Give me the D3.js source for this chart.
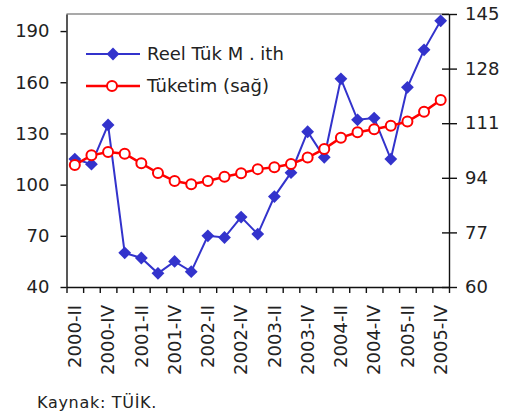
<!DOCTYPE html>
<html>
<head>
<meta charset="utf-8">
<script src="https://cdn.jsdelivr.net/npm/d3@7"></script>
<style>
  body { margin: 0; background: #fff; }
  text { font-family: "DejaVu Sans", sans-serif; fill: #222; }
</style>
</head>
<body>
<div id="chart"></div>
<script>
// Quarters shown on the x axis (every one of them is a point)
var categories = [
  "2000-II", "2000-III", "2000-IV",
  "2001-I", "2001-II", "2001-III", "2001-IV",
  "2002-I", "2002-II", "2002-III", "2002-IV",
  "2003-I", "2003-II", "2003-III", "2003-IV",
  "2004-I", "2004-II", "2004-III", "2004-IV",
  "2005-I", "2005-II", "2005-III", "2005-IV"
];

// Labels actually printed under the axis
var tickLabels = [
  "2000-II", "2000-IV", "2001-II", "2001-IV", "2002-II", "2002-IV",
  "2003-II", "2003-IV", "2004-II", "2004-IV", "2005-II", "2005-IV"
];

// Left axis series
var creditValues = [115, 112, 135, 60, 57, 48, 55, 49, 70, 69, 81, 71,
  93, 107, 131, 116, 162, 138, 139, 115, 157, 179, 196];

// Right axis series
var consumptionValues = [98, 101, 102, 101.5, 98.5, 95.5, 93, 92, 93, 94.3,
  95.4, 96.7, 97.3, 98.3, 100.3, 103, 106.5, 108.2, 109.1, 110.2, 111.5, 114.6, 118.2];

var leftTicks = [40, 70, 100, 130, 160, 190];
var rightTicks = [60, 77, 94, 111, 128, 145];

var seriesNames = ["Reel Tük M . ith", "Tüketim (sağ)"];
var blue = "#3333cc";
var red = "#ff0000";

// Sizes
var width = 506;
var height = 416;
var margin = { top: 14, right: 57, bottom: 129, left: 66.5 };
var w = width - margin.left - margin.right;
var h = height - margin.top - margin.bottom;

var svg = d3
  .select("#chart")
  .append("svg")
  .attr("width", width)
  .attr("height", height);

var g = svg
  .append("g")
  .attr("transform", "translate(" + margin.left + "," + margin.top + ")");

// Scales
var x = d3.scaleBand().domain(categories).range([0, w]).padding(0);
var xEdge = d3.scaleLinear().domain([0, categories.length]).range([0, w]);
var yLeft = d3.scaleLinear().domain([40, 200]).range([h, 0]);
var yRight = d3.scaleLinear().domain([60, 145]).range([h, 0]);

function cx(d) {
  return x(d) + x.bandwidth() / 2;
}

// Top border of the plot area
g.append("line")
  .attr("x1", 0)
  .attr("x2", w)
  .attr("y1", 0)
  .attr("y2", 0)
  .attr("stroke", "#8c8c8c")
  .attr("stroke-width", 1.5);

// Left axis
var leftAxis = g
  .append("g")
  .call(d3.axisLeft(yLeft).tickValues(leftTicks).tickSize(6).tickSizeOuter(0).tickPadding(11));

// Right axis, ticks cross the line
var rightAxis = g
  .append("g")
  .attr("transform", "translate(" + w + ",0)")
  .call(d3.axisRight(yRight).tickValues(rightTicks).tickSize(8).tickSizeOuter(0).tickPadding(8));
rightAxis.selectAll(".tick line").attr("x1", -7);

// Bottom axis: ticks between the quarters
var bottomAxis = g
  .append("g")
  .attr("transform", "translate(0," + h + ")")
  .call(
    d3.axisBottom(xEdge)
      .tickValues(d3.range(categories.length + 1))
      .tickFormat("")
      .tickSize(6)
      .tickSizeOuter(0)
  );

[leftAxis, rightAxis, bottomAxis].forEach(function (a) {
  a.selectAll("path, line").attr("stroke", "#111").attr("stroke-width", 1.4);
  a.selectAll("text")
    .style("font-family", "DejaVu Sans, sans-serif")
    .style("font-size", "18px")
    .attr("fill", "#222");
});

// Rotated quarter labels
g.selectAll(".xlab")
  .data(tickLabels)
  .enter()
  .append("text")
  .attr("class", "xlab")
  .attr("transform", function (d) {
    return "translate(" + cx(d) + "," + (h + 18) + ") rotate(-90)";
  })
  .attr("dy", "0.35em")
  .attr("text-anchor", "end")
  .style("font-size", "18px")
  .text(function (d) {
    return d;
  });

// Line generators
var lineLeft = d3
  .line()
  .x(function (d, i) { return cx(categories[i]); })
  .y(function (d) { return yLeft(d); });

var lineRight = d3
  .line()
  .x(function (d, i) { return cx(categories[i]); })
  .y(function (d) { return yRight(d); });

var diamond = d3.symbol().type(d3.symbolSquare).size(82);

// Blue series
g.append("path")
  .datum(creditValues)
  .attr("d", lineLeft)
  .attr("fill", "none")
  .attr("stroke", blue)
  .attr("stroke-width", 2);

g.selectAll(".dia")
  .data(creditValues)
  .enter()
  .append("path")
  .attr("class", "dia")
  .attr("d", diamond)
  .attr("transform", function (d, i) {
    return "translate(" + cx(categories[i]) + "," + yLeft(d) + ") rotate(45)";
  })
  .attr("fill", blue);

// Red series (drawn on top)
g.append("path")
  .datum(consumptionValues)
  .attr("d", lineRight)
  .attr("fill", "none")
  .attr("stroke", red)
  .attr("stroke-width", 2.5);

g.selectAll(".circ")
  .data(consumptionValues)
  .enter()
  .append("circle")
  .attr("class", "circ")
  .attr("cx", function (d, i) { return cx(categories[i]); })
  .attr("cy", function (d) { return yRight(d); })
  .attr("r", 5)
  .attr("fill", "#fff")
  .attr("stroke", red)
  .attr("stroke-width", 2);

// Legend
var legend = svg
  .selectAll(".legend")
  .data(seriesNames)
  .enter()
  .append("g")
  .attr("class", "legend")
  .attr("transform", function (d, i) {
    return "translate(86," + (54 + i * 32) + ")";
  });

legend
  .append("line")
  .attr("x1", 0)
  .attr("x2", 54)
  .attr("stroke", function (d, i) { return i === 0 ? blue : red; })
  .attr("stroke-width", function (d, i) { return i === 0 ? 2 : 2.5; });

legend
  .filter(function (d, i) { return i === 0; })
  .append("path")
  .attr("d", diamond)
  .attr("transform", "translate(27,0) rotate(45)")
  .attr("fill", blue);

legend
  .filter(function (d, i) { return i === 1; })
  .append("circle")
  .attr("cx", 26)
  .attr("r", 5)
  .attr("fill", "#fff")
  .attr("stroke", red)
  .attr("stroke-width", 2);

legend
  .append("text")
  .attr("x", 61)
  .attr("dy", "0.35em")
  .style("font-size", "18px")
  .text(function (d) { return d; });

// Source note
svg
  .append("text")
  .attr("x", 37)
  .attr("y", 408)
  .style("font-size", "16px")
  .style("letter-spacing", "0.7px")
  .text("Kaynak: TÜİK.");
</script>
</body>
</html>
